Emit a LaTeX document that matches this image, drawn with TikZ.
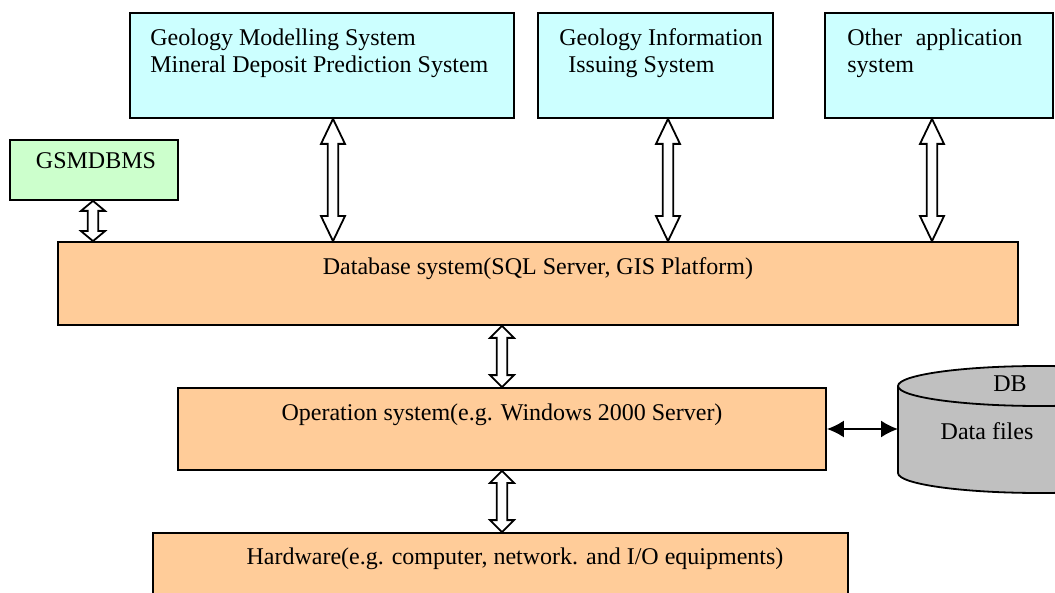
\documentclass[tikz,border=0pt]{standalone}
\usepackage{fontspec}
\setmainfont{Liberation Serif}
\usetikzlibrary{arrows.meta,calc}
\definecolor{bleuclair}{HTML}{CCFFFF}
\definecolor{vertclair}{HTML}{CCFFCC}
\definecolor{saumon}{HTML}{FFCC99}
\definecolor{grismoyen}{HTML}{C0C0C0}
\begin{document}
\begin{tikzpicture}[x=0.5pt,y=-0.5pt]
	\tikzstyle{boite}=[draw=black,line width=0.9pt,inner sep=0pt]
	\tikzstyle{texte}=[inner sep=0pt,font=\fontsize{12}{13.5}\selectfont]
	\tikzstyle{creuse}=[draw=black,fill=white,line width=0.9pt,line join=miter]
	\tikzstyle{fleche}=[{Latex[length=8.5pt,width=8.5pt]}-{Latex[length=8.5pt,width=8.5pt]},line width=0.9pt]
	\def\DemiTete{6pt}\def\DemiTige{2.6pt}
	\def\RayonX{71pt}\def\RayonY{10pt}
	\def\FlecheCreuse#1#2#3#4{%
		\draw[creuse] let \p1=(#2),\p2=(#3),\p3=(#1,0) in
		(\x3,\y1) -- (\x3+\DemiTete,\y1-#4) -- (\x3+\DemiTige,\y1-#4)
		-- (\x3+\DemiTige,\y2+#4) -- (\x3+\DemiTete,\y2+#4) -- (\x3,\y2)
		-- (\x3-\DemiTete,\y2+#4) -- (\x3-\DemiTige,\y2+#4)
		-- (\x3-\DemiTige,\y1-#4) -- (\x3-\DemiTete,\y1-#4) -- cycle;}
	\clip (0,0) rectangle (1055,593);
	\node[boite,fill=bleuclair,minimum width=192pt,minimum height=52.5pt] (Modele) at (322,65.5) {};
	\node[boite,fill=bleuclair,minimum width=117.5pt,minimum height=52.5pt] (Diffusion) at (655.5,65.5) {};
	\node[boite,fill=bleuclair,minimum width=114pt,minimum height=52.5pt] (Autre) at (939,65.5) {};
	\node[boite,fill=vertclair,minimum width=84pt,minimum height=30pt] (Gestion) at (94,170) {};
	\node[boite,fill=saumon,minimum width=480pt,minimum height=41.5pt] (Base) at (538,283.5) {};
	\node[boite,fill=saumon,minimum width=324pt,minimum height=41pt] (Systeme) at (502,429) {};
	\node[boite,fill=saumon,minimum width=347.5pt,minimum height=43.5pt] (Materiel) at (500.5,576.5) {};
	\draw[boite,fill=grismoyen] (898,386) -- (898,473)
		arc[start angle=180,end angle=360,x radius=\RayonX,y radius=\RayonY] -- (1182,386)
		arc[start angle=0,end angle=180,x radius=\RayonX,y radius=\RayonY] -- cycle;
	\draw[boite] (898,386) arc[start angle=180,end angle=360,x radius=\RayonX,y radius=\RayonY];
	\coordinate (Fichiers) at (898,430);
	\node[texte,anchor=base west,text width=180pt,align=flush left] (tModele) at (150,46) {Geology Modelling System\\Mineral Deposit Prediction System};
	\node[texte,anchor=base west,text width=110pt,align=flush left] (tDiffusion) at (559,46) {Geology Information\\\hspace*{4.5pt}Issuing System};
	\node[texte,anchor=base west,text width=87.5pt,align=flush left] (tAutre) at (847,46) {Other\hskip 0pt plus 1fill application\\system};
	\node[texte,anchor=base] (tGestion) at (96,169) {GSMDBMS};
	\node[texte,anchor=base] (tBase) at (538,275) {Database system(SQL Server, GIS Platform)};
	\node[texte,anchor=base] (tSysteme) at (502,420) {Operation system(e.g. Windows 2000 Server)};
	\node[texte,anchor=base] (tMateriel) at (515,564) {Hardware(e.g. computer, network. and I/O equipments)};
	\node[texte,anchor=base] (tDB) at (1010,391) {DB};
	\node[texte,anchor=base] (tFichiers) at (987,439) {Data files};
	\FlecheCreuse{93}{Gestion.south}{Base.north}{5pt}
	\FlecheCreuse{333}{Modele.south}{Base.north}{12.5pt}
	\FlecheCreuse{668}{Diffusion.south}{Base.north}{12.5pt}
	\FlecheCreuse{932}{Autre.south}{Base.north}{12.5pt}
	\FlecheCreuse{502}{Base.south}{Systeme.north}{6pt}
	\FlecheCreuse{502}{Systeme.south}{Materiel.north}{6pt}
	\draw[fleche] (Systeme.east) -- (Systeme.east -| Fichiers);
\end{tikzpicture}
\end{document}
